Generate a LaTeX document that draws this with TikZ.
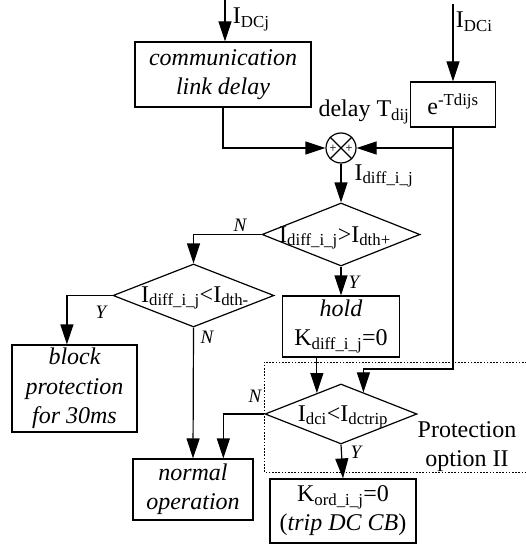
\documentclass[tikz,border=0pt]{standalone}
\usepackage{fontspec}
\setmainfont{Liberation Serif}
\usepackage{tikz}
\usetikzlibrary{shapes.geometric, arrows.meta, positioning, calc}

\begin{document}
\begin{tikzpicture}[x=1pt, y=-1pt, line width=1.2pt,
  font=\fontsize{24}{29}\selectfont,
  box/.style={draw, rectangle, inner sep=0pt, align=center},
  decision/.style={draw, diamond, inner sep=0pt},
  arr/.style={-{Triangle[length=20pt,width=13pt]}},
  yn/.style={font=\fontsize{19}{22}\selectfont\itshape, anchor=base}]
  \useasboundingbox (0,0) rectangle (525,548);

  % Blocks
  \node[box, minimum width=176, minimum height=65, font=\fontsize{24}{29}\selectfont\itshape] (comm) at (223,74.5) {communication\\link delay};
  \node[box, minimum width=85, minimum height=45] (expd) at (453,104.5) {e\textsuperscript{-Tdijs}};
  \node[draw, circle, minimum size=30, inner sep=0pt] (sum) at (341,148) {};
  \draw (sum.north west) -- (sum.south east);
  \draw (sum.north east) -- (sum.south west);
  \node[font=\fontsize{13}{13}\selectfont, inner sep=0pt] (pl) at ($(sum.center)+(-8,1)$) {+};
  \node[font=\fontsize{13}{13}\selectfont, inner sep=0pt] (pr) at ($(sum.center)+(8,1)$) {+};

  % Decisions
  \node[decision, minimum width=158, minimum height=63] (d1) at (341,234.5) {};
  \node[decision, minimum width=161, minimum height=63] (d2) at (193.5,295.5) {};
  \node[decision, minimum width=152, minimum height=60] (d3) at (341,414) {};
  \node (t1) at (335,238) {I\textsubscript{diff\_i\_j}>I\textsubscript{dth+}};
  \node (t2) at (195,298) {I\textsubscript{diff\_i\_j}<I\textsubscript{dth-}};
  \node (t3) at (343,417) {I\textsubscript{dci}<I\textsubscript{dctrip}};

  % Results
  \node[box, minimum width=117, minimum height=61] (hold) at (341,326.5) {\textit{hold}\\K\textsubscript{diff\_i\_j}=0};
  \node[box, minimum width=125, minimum height=87, font=\fontsize{24}{29.5}\selectfont\itshape] (block) at (74.5,388.5) {block\\protection\\for 30ms};
  \node[box, minimum width=120, minimum height=61, font=\fontsize{24}{29}\selectfont\itshape] (normal) at (193,489.5) {normal\\operation};
  \node[box, minimum width=146, minimum height=64] (kord) at (343,511) {K\textsubscript{ord\_i\_j}=0\\(\textit{trip DC CB})};

  % Protection option II
  \draw[line width=1pt, dash pattern=on 1.6pt off 1.6pt] (530,362) -| (264,472) -- (530,472);
  \node[align=center] (opt) at (467,447) {Protection\\option II};

  % Inputs
  \coordinate (inj) at (225,0);
  \coordinate (ini) at (453,4);
  \coordinate (lvl) at (0,369);
  \coordinate (bin) at ($(block.north west)!0.44!(block.north east)$);
  \coordinate (nin) at ($(normal.north west)!0.75!(normal.north east)$);

  % Connectors
  \draw[arr] (inj) -- (inj |- comm.north);
  \draw[arr] (ini) -- (expd.north);
  \draw[arr] (comm.south) |- (sum.west);
  \draw[arr] (expd.south) |- (sum.east);
  \draw[arr] (expd.south) |- (d3.44 |- lvl) -- (d3.44);
  \draw[arr] (sum.south) -- (d1.north);
  \draw[arr] (d1.west) -| (d2.north);
  \draw[arr] (d1.south) -- (hold.north);
  \draw[arr] (d2.west) -| (bin);
  \draw[arr] (d2.south) -- (normal.north);
  \draw[arr] (d3.139.5 |- hold.south) -- (d3.139.5);
  \draw[arr] (d3.west) -| (nin);
  \draw[arr] (d3.south) -- (kord.north);

  % Labels
  \node[anchor=base west] (lj) at (229,24) {I\textsubscript{DCj}};
  \node[anchor=base west] (li) at (452,28) {I\textsubscript{DCi}};
  \node[anchor=base east, inner sep=1pt] (ld) at (411,117) {delay T\textsubscript{dij}};
  \node[anchor=base west, inner sep=0pt] (lf) at (354,180) {I\textsubscript{diff\_i\_j}};
  \node[yn] (n1) at (240,231) {N};
  \node[yn] (y1) at (354,288) {Y};
  \node[yn] (y2) at (101,318) {Y};
  \node[yn] (n2) at (207,343) {N};
  \node[yn] (n3) at (255,402) {N};
  \node[yn] (y3) at (356,458) {Y};
\end{tikzpicture}
\end{document}
